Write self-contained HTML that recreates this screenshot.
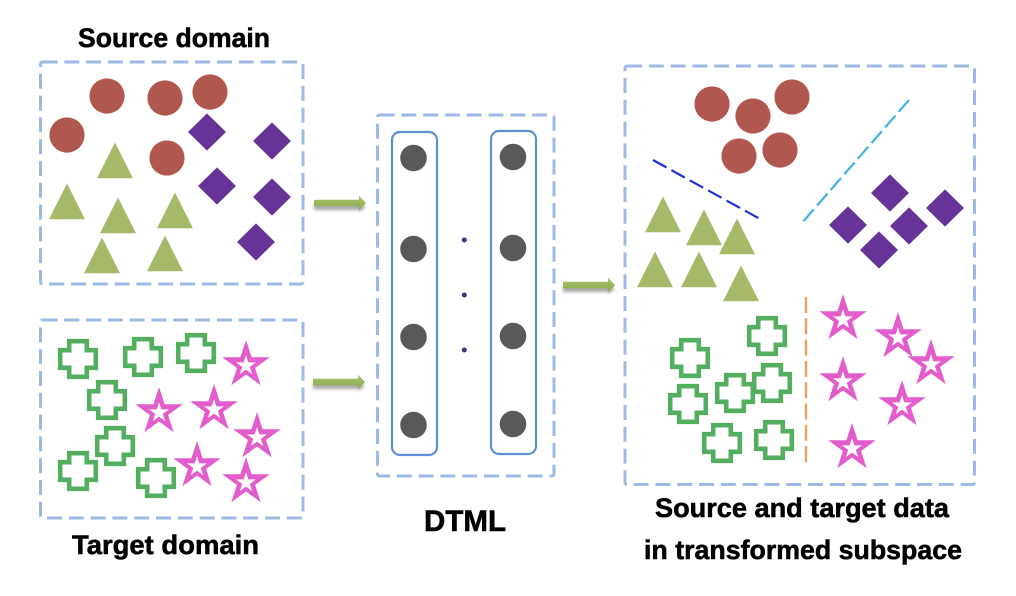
<!DOCTYPE html>
<html>
<head>
<meta charset="utf-8">
<style>
html,body{margin:0;padding:0;background:#fff;width:1016px;height:596px;overflow:hidden}
svg{display:block;filter:blur(.35px)}
text{font-family:"Liberation Sans",sans-serif;font-weight:700;fill:#000;stroke:#000;stroke-width:.55}
</style>
</head>
<body>
<svg width="1016" height="596" viewBox="0 0 1016 596" xmlns="http://www.w3.org/2000/svg">
<defs>
<circle id="c" r="17.6" fill="#b0574f"/>
<polygon id="t" points="0,-.5 18,35.3 -18,35.3" fill="#a6b969"/>
<polygon id="d" points="0,-18.6 19,0 0,18.6 -19,0" fill="#663399"/>
<polygon id="x" points="-8.8,-17.8 8.8,-17.8 8.8,-8.8 17.8,-8.8 17.8,8.8 8.8,8.8 8.8,17.8 -8.8,17.8 -8.8,8.8 -17.8,8.8 -17.8,-8.8 -8.8,-8.8" fill="none" stroke="#53ae5f" stroke-width="4.6"/>
<g id="s">
<polygon fill="#e35ccb" points="0,-25 5.61,-7.73 23.78,-7.73 9.08,2.95 14.69,20.23 0,9.55 -14.69,20.23 -9.08,2.95 -23.78,-7.73 -5.61,-7.73"/>
<polygon fill="#fff" transform="translate(0,.6) scale(.42)" points="0,-25 5.61,-7.73 23.78,-7.73 9.08,2.95 14.69,20.23 0,9.55 -14.69,20.23 -9.08,2.95 -23.78,-7.73 -5.61,-7.73"/>
</g>
<filter id="b" x="-20%" y="-100%" width="140%" height="300%"><feGaussianBlur stdDeviation="1.6"/></filter>
<linearGradient id="ag" x1="0" y1="0" x2="0" y2="1"><stop offset="0" stop-color="#a9c46c"/><stop offset="1" stop-color="#8aa84c"/></linearGradient>
<g id="a">
<polygon filter="url(#b)" fill="#8a8a8a" opacity=".75" points="0,0 45,0 45,-2 52,3 45,8 45,6 0,6" transform="translate(0,1)"/>
<polygon fill="url(#ag)" points="0,-3.3 45,-3.3 45,-7.3 52,0 45,7.3 45,3.3 0,3.3"/>
</g>
</defs>

<g fill="none" stroke="#9dbae6" stroke-width="3" stroke-dasharray="15 6.8">
<rect x="40.5" y="62" width="262.5" height="222" rx="2"/>
<rect x="40.5" y="320" width="262.5" height="198" rx="2"/>
<rect x="377.5" y="115" width="176.5" height="361" rx="2"/>
<rect x="625" y="66" width="349.5" height="418.5" rx="2"/>
</g>

<!-- Source domain -->
<use href="#c" x="107" y="96"/><use href="#c" x="165" y="98"/><use href="#c" x="210" y="92"/>
<use href="#c" x="67" y="135"/><use href="#c" x="167" y="158"/>
<use href="#t" x="115" y="143"/><use href="#t" x="67" y="184"/><use href="#t" x="118" y="198"/>
<use href="#t" x="175" y="193"/><use href="#t" x="102" y="238"/><use href="#t" x="165" y="236"/>
<use href="#d" x="207" y="132"/><use href="#d" x="272" y="141"/><use href="#d" x="217" y="186"/>
<use href="#d" x="272" y="197"/><use href="#d" x="256" y="242"/>

<!-- Target domain -->
<use href="#x" x="78" y="359"/><use href="#x" x="143" y="357"/><use href="#x" x="196" y="353"/>
<use href="#x" x="107" y="400"/><use href="#x" x="115" y="446"/><use href="#x" x="78" y="471"/>
<use href="#x" x="156" y="478"/>
<use href="#s" x="246" y="365"/><use href="#s" x="159" y="412"/><use href="#s" x="214" y="409"/>
<use href="#s" x="257" y="437"/><use href="#s" x="197" y="466"/><use href="#s" x="246" y="482"/>

<!-- Arrows -->
<use href="#a" x="314" y="203"/>
<use href="#a" x="313" y="382"/>
<use href="#a" x="563" y="285"/>

<!-- DTML network -->
<g fill="none" stroke="#5f8fd3" stroke-width="2.2">
<rect x="392" y="132" width="45" height="323" rx="8"/>
<rect x="491" y="131" width="45" height="323" rx="8"/>
</g>
<g fill="#595959">
<circle cx="413.5" cy="158" r="13.3"/><circle cx="413.5" cy="249" r="13.3"/>
<circle cx="413.5" cy="337" r="13.3"/><circle cx="413.5" cy="425" r="13.3"/>
<circle cx="513" cy="157" r="13.3"/><circle cx="513" cy="248" r="13.3"/>
<circle cx="513" cy="336" r="13.3"/><circle cx="513" cy="424" r="13.3"/>
</g>
<g fill="#4b2a8a">
<circle cx="464.3" cy="240" r="2.5"/><circle cx="464.3" cy="295" r="2.5"/><circle cx="464.3" cy="350" r="2.5"/>
</g>

<!-- Subspace -->
<use href="#c" x="712" y="104"/><use href="#c" x="753" y="116"/><use href="#c" x="792" y="97"/>
<use href="#c" x="739" y="156"/><use href="#c" x="780" y="150"/>
<line x1="653" y1="160" x2="760" y2="219" stroke="#1f2fd8" stroke-width="2.2" stroke-dasharray="15.3 5.7"/>
<line x1="909" y1="100" x2="801" y2="224" stroke="#3fb0ea" stroke-width="2.2" stroke-dasharray="15.7 5"/>
<line x1="806" y1="297" x2="806" y2="463" stroke="#e9a060" stroke-width="2.4" stroke-dasharray="16 5.3"/>
<use href="#t" x="663" y="197"/><use href="#t" x="704" y="210"/><use href="#t" x="737" y="219"/>
<use href="#t" x="655" y="252"/><use href="#t" x="699" y="252"/><use href="#t" x="741" y="266"/>
<use href="#d" x="890" y="193"/><use href="#d" x="945" y="208"/><use href="#d" x="848" y="225"/>
<use href="#d" x="909" y="226"/><use href="#d" x="879" y="250"/>
<use href="#x" x="767" y="336"/><use href="#x" x="690" y="358"/><use href="#x" x="688" y="404"/>
<use href="#x" x="735" y="393"/><use href="#x" x="772" y="383"/><use href="#x" x="722" y="443"/>
<use href="#x" x="774" y="440"/>
<use href="#s" x="843" y="319"/><use href="#s" x="898" y="337"/><use href="#s" x="931" y="364"/>
<use href="#s" x="843" y="381"/><use href="#s" x="902" y="405"/><use href="#s" x="852" y="448"/>

<!-- Labels -->
<text x="78" y="47" font-size="27" textLength="192" lengthAdjust="spacingAndGlyphs">Source domain</text>
<text x="72" y="554" font-size="27" textLength="187" lengthAdjust="spacingAndGlyphs">Target domain</text>
<text x="424" y="531" font-size="30" textLength="82" lengthAdjust="spacingAndGlyphs">DTML</text>
<text x="655" y="517" font-size="27" textLength="294" lengthAdjust="spacingAndGlyphs">Source and target data</text>
<text x="644" y="559" font-size="27" textLength="318" lengthAdjust="spacingAndGlyphs">in transformed subspace</text>
</svg>
</body>
</html>
